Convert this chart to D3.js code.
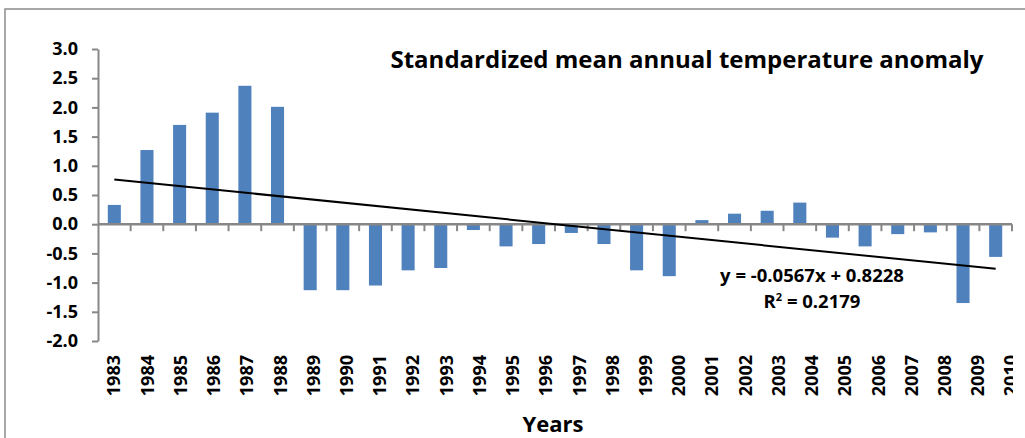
<!DOCTYPE html>
<html>
<head>
<meta charset="utf-8">
<script src="https://cdn.jsdelivr.net/npm/d3@7"></script>
<style>
  body { margin: 0; background: #fff; }
  svg { display: block; font-family: "Open Sans", sans-serif; }
</style>
</head>
<body>
<svg id="chart" width="1025" height="438"></svg>
<script>
var years = ["1983","1984","1985","1986","1987","1988","1989","1990","1991","1992",
             "1993","1994","1995","1996","1997","1998","1999","2000","2001","2002",
             "2003","2004","2005","2006","2007","2008","2009","2010"];
var anomaly = [0.33, 1.27, 1.70, 1.91, 2.37, 2.01, -1.13, -1.13, -1.05, -0.79,
               -0.75, -0.10, -0.38, -0.34, -0.15, -0.34, -0.79, -0.89, 0.07, 0.18,
               0.23, 0.37, -0.23, -0.38, -0.17, -0.14, -1.35, -0.56];
var yTicks = [-2.0, -1.5, -1.0, -0.5, 0.0, 0.5, 1.0, 1.5, 2.0, 2.5, 3.0];
var trendSlope = -0.0567, trendIntercept = 0.8228;
var trendLabel = "y = -0.0567x + 0.8228";
var r2Label = "0.2179";

var svg = d3.select("#chart");

// chart area frame
svg.append("rect")
    .attr("x", 5).attr("y", 9)
    .attr("width", 1040).attr("height", 460)
    .attr("fill", "none")
    .attr("stroke", "#8c8c8c")
    .attr("stroke-width", 1.5);

var x = d3.scaleBand()
    .domain(years)
    .range([98, 1012])
    .paddingInner(0.6)
    .paddingOuter(0.3);

var y = d3.scaleLinear()
    .domain([-2, 3])
    .range([341, 49]);

var axisColor = "#878787";

// bars
svg.append("g").selectAll("rect")
    .data(anomaly)
    .enter().append("rect")
    .attr("x", function(d, i) { return x(years[i]); })
    .attr("y", function(d) { return y(Math.max(0, d)); })
    .attr("width", x.bandwidth())
    .attr("height", function(d) { return Math.abs(y(d) - y(0)); })
    .attr("fill", "#4f81bd");

// y axis (plain hyphen for negatives, as in the original)
var yAxis = svg.append("g")
    .attr("transform", "translate(" + x.range()[0] + ",0)")
    .call(d3.axisLeft(y).tickValues(yTicks).tickSize(6).tickSizeOuter(0).tickPadding(14)
        .tickFormat(function(d) { return d.toFixed(1); }));
yAxis.select(".domain").attr("stroke", axisColor).attr("stroke-width", 2);
yAxis.selectAll(".tick line").attr("stroke", axisColor).attr("stroke-width", 2);
yAxis.selectAll(".tick text")
    .attr("fill", "#000")
    .style("font-family", "'Open Sans', sans-serif")
    .style("font-size", "18px")
    .style("font-weight", "bold");

// x axis at zero, ticks on category boundaries
var xAxisG = svg.append("g");
xAxisG.append("line")
    .attr("x1", x.range()[0]).attr("x2", x.range()[1])
    .attr("y1", y(0)).attr("y2", y(0))
    .attr("stroke", axisColor).attr("stroke-width", 2.5);
var bounds = years.map(function(d) { return x(d) - x.step() * x.paddingOuter(); });
bounds.push(x.range()[1]);
xAxisG.selectAll("line.tick")
    .data(bounds.slice(1))
    .enter().append("line")
    .attr("class", "tick")
    .attr("x1", function(d) { return d; }).attr("x2", function(d) { return d; })
    .attr("y1", y(0)).attr("y2", y(0) + 7)
    .attr("stroke", axisColor).attr("stroke-width", 2);

// year labels (rotated), clipped at right like the original
svg.append("clipPath").attr("id", "labelClip")
    .append("rect").attr("x", 0).attr("y", 0).attr("width", 1013).attr("height", 438);
var labelX = d3.scalePoint().domain(years).range([114, 1011]);
svg.append("g").attr("clip-path", "url(#labelClip)")
    .selectAll("text")
    .data(years)
    .enter().append("text")
    .attr("transform", function(d) { return "translate(" + labelX(d) + ",355) rotate(-90)"; })
    .attr("dy", "0.36em")
    .attr("text-anchor", "end")
    .style("font-size", "18px")
    .style("font-weight", "bold")
    .text(function(d) { return d; });

// linear trendline
var trend = years.map(function(d, i) {
    return [x(d) + x.bandwidth() / 2, y(trendSlope * (i + 1) + trendIntercept)];
});
svg.append("path")
    .datum([trend[0], trend[trend.length - 1]])
    .attr("d", d3.line())
    .attr("fill", "none")
    .attr("stroke", "#000")
    .attr("stroke-width", 2);

// equation labels
svg.append("text")
    .attr("x", 812).attr("y", 282)
    .attr("text-anchor", "middle")
    .style("font-size", "18.5px").style("font-weight", "bold")
    .text(trendLabel);
var r2 = svg.append("text")
    .attr("x", 812).attr("y", 308)
    .attr("text-anchor", "middle")
    .style("font-size", "18.5px").style("font-weight", "bold");
r2.append("tspan").text("R");
r2.append("tspan").attr("dy", -7).style("font-size", "11px").text("2");
r2.append("tspan").attr("dy", 7).text(" = " + r2Label);

// title
svg.append("text")
    .attr("x", 687).attr("y", 68)
    .attr("text-anchor", "middle")
    .style("font-size", "24px").style("font-weight", "bold")
    .text("Standardized mean annual temperature anomaly");

// axis title
svg.append("text")
    .attr("x", 553).attr("y", 432)
    .attr("text-anchor", "middle")
    .style("font-size", "22px").style("font-weight", "bold")
    .text("Years");
</script>
</body>
</html>
